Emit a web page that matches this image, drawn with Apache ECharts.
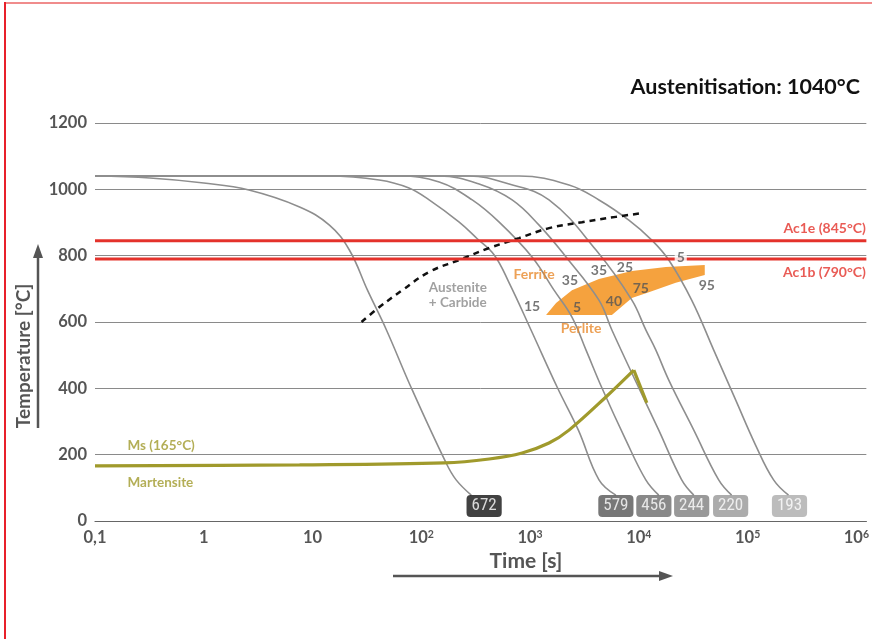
<!DOCTYPE html>
<html>
<head>
<meta charset="utf-8">
<script src="https://cdn.jsdelivr.net/npm/echarts@6/dist/echarts.min.js"></script>
<style>
html,body{margin:0;padding:0;background:#fff;}
#wrap{position:relative;width:872px;height:639px;overflow:hidden;background:#fff;}
#chart{position:absolute;left:0;top:0;width:872px;height:639px;}
#bt{position:absolute;left:4px;top:2px;width:868px;height:2px;background:#f08c8c;}
#bl{position:absolute;left:4px;top:2px;width:1.5px;height:637px;background:#e8202a;}
</style>
</head>
<body>
<div id="wrap"><div id="chart"></div><div id="bt"></div><div id="bl"></div></div>
<script>
// ---- data ----
const xMin = 0.1;
const xMax = 1.235e6;
const yTicks = [0, 200, 400, 600, 800, 1000, 1200];

const curve672 = [[0.1,1040],[0.32,1034],[1,1019],[2.6,998],[7.6,947],[14.3,892],[21.8,817],[32,696],[47.8,576],[81,401],[169,175],[209,124],[288,78]];
const curve579 = [[0.1,1040],[14,1040],[41,1028],[77,1004],[118,968],[223,901],[327,851],[468,802],[642,718],[1020,576],[1790,401],[2780,274],[4300,124],[6150,78]];
const curve456 = [[0.1,1040],[63,1040],[146,1022],[294,968],[520,901],[1042,796],[1660,696],[2426,615],[3264,516],[4580,401],[7600,244],[11590,124],[15240,78]];
const curve244 = [[0.1,1040],[146,1040],[340,1016],[684,968],[1210,892],[2140,796],[4296,666],[5650,576],[10000,401],[15240,274],[24770,124],[32000,78]];
const curve220 = [[0.1,1040],[275,1040],[642,1016],[1493,968],[4040,817],[8630,666],[11590,576],[14310,516],[18840,425],[32000,274],[54200,124],[71300,78]];
const curve193 = [[0.1,1040],[793,1040],[2280,1013],[4300,968],[8090,907],[13150,847],[18840,787],[30600,666],[48700,516],[77600,365],[118300,229],[173300,124],[237700,78]];
const curves = [curve672, curve579, curve456, curve244, curve220, curve193];

const hardness = ['672','579','456','244','220','193'];
const hardnessPos = [[378,45],[6150,45],[13740,45],[30600,45],[69800,45],[242700,45]];
const hardnessColors = ['#111111','#555555','#6b6b6b','#808080','#979797','#ababab'];

const msLine = [[0.1,166],[7.6,169],[163,175],[421,187],[845,205],[1493,235],[2280,274],[4980,374],[8990,455]];
const msTail = [[8990,455],[11830,356]];

const carbideLine = [[28.2,600],[41.2,645],[66.9,696],[118,751],[223,787],[421,823],[793,853],[1493,883],[3000,901],[6150,917],[11120,929]];

const ferritePerlite = [[1403,621],[1733,657],[2427,696],[4296,730],[8630,754],[17700,766],[40360,772],[40360,742],[21830,718],[12360,690],[8630,672],[5650,621]];

const ac1e = 845, ac1b = 790;

const phaseNames = ['Ferrite','Perlite'];
const phasePos = [[1089,742],[2939,579]];

const pctNames = ['35','35','25','15','5','40','75','95'];
const pctPos = [[2328,724],[4296,754],[7450,763],[1042,648],[2698,645],[5900,663],[10420,702],[42100,709]];
const pctWhite = ['5'];
const pctWhitePos = [[24270,796]];

const leftLabels = ['Austenite\n+ Carbide'];
const leftLabelPos = [[116,680]];
const msLabels = ['Ms (165°C)','Martensite'];
const msLabelPos = [[0.197,226],[0.197,115]];
const acLabels = ['Ac1e (845°C)','Ac1b (790°C)'];
const acLabelPos = [[xMax,883],[xMax,748]];

// ---- chart ----
const FONT = 'Lato, "Open Sans", sans-serif';
const GRAY = '#8e8e8e', RED = '#e4322b', OLIVE = '#a09a2c', ORANGE = '#f5a23e', ORANGE_T = '#e98a2c', TXT = '#555';

const chart = echarts.init(document.getElementById('chart'), null, {renderer:'canvas'});

function supLabel(v){
  const l = Math.log10(v);
  const e = Math.round(l);
  if (Math.abs(l - e) > 1e-6) return '';
  if (e === -1) return '0,1';
  if (e === 0) return '1';
  if (e === 1) return '10';
  return '{b|10}{s|' + e + '}';
}

function textScatter(names, pos, label, z){
  return {
    type:'scatter', symbol:'circle', symbolSize:1, z: z || 10, silent:true,
    itemStyle:{color:'rgba(0,0,0,0)'},
    data: names.map((n,i)=>({name:n, value:pos[i]})),
    label: Object.assign({show:true, formatter:'{b}', fontFamily:FONT}, label)
  };
}

const series = [];
series.push({
  type:'custom', z:1, silent:true,
  data:[[1000,700]],
  renderItem:function(params, api){
    const pts = ferritePerlite.map(p=>api.coord(p));
    return {type:'polygon', shape:{points:pts}, style:{fill:ORANGE}};
  }
});
curves.forEach(c=>{
  series.push({type:'line', data:c, smooth:0.4, symbol:'none', z:3, lineStyle:{color:GRAY, width:1.6}});
});
series.push({type:'line', data:carbideLine, smooth:0.4, symbol:'none', z:4, lineStyle:{color:'#111', width:2.5, type:[6,5]}});
series.push({type:'line', data:[[xMin,ac1e],[xMax,ac1e]], symbol:'none', z:5, lineStyle:{color:RED, width:3}});
series.push({type:'line', data:[[xMin,ac1b],[xMax,ac1b]], symbol:'none', z:5, lineStyle:{color:RED, width:3}});
series.push({type:'line', data:msLine, smooth:0.35, symbol:'none', z:6, lineStyle:{color:OLIVE, width:3.2}});
series.push({type:'line', data:msTail, symbol:'none', z:6, lineStyle:{color:OLIVE, width:3.2}});

series.push({
  type:'scatter', symbol:'circle', symbolSize:1, z:12, silent:true,
  itemStyle:{color:'rgba(0,0,0,0)'},
  data: hardness.map((h,i)=>({name:h, value:hardnessPos[i], label:{backgroundColor:hardnessColors[i]}})),
  label:{show:true, position:'inside', formatter:'{b}', color:'#fff', fontSize:17,
    fontFamily:'"Liberation Sans Narrow", "Roboto Condensed", "DejaVu Sans Condensed", sans-serif',
    padding:[3,5,2,5], borderRadius:4, lineHeight:17}
});
series.push(textScatter(phaseNames, phasePos, {position:'inside', color:ORANGE_T, fontSize:14, fontWeight:'bold'}, 11));
series.push(textScatter(pctNames, pctPos, {position:'inside', color:TXT, fontSize:14, fontWeight:'bold'}, 11));
series.push(textScatter(pctWhite, pctWhitePos, {position:'inside', color:TXT, fontSize:14, fontWeight:'bold', backgroundColor:'#fff', padding:[0,2]}, 11));
series.push(textScatter(leftLabels, leftLabelPos, {position:'right', distance:0, align:'left', color:'#8a8a8a', fontSize:13.5, fontWeight:'bold', lineHeight:15}, 11));
series.push(textScatter(msLabels, msLabelPos, {position:'right', distance:0, color:OLIVE, fontSize:13.5, fontWeight:'bold'}, 11));
series.push(textScatter(acLabels, acLabelPos, {position:'left', distance:0, color:RED, fontSize:14, fontWeight:'bold'}, 11));

const option = {
  animation:false,
  backgroundColor:'#fff',
  grid:{left:95, right:4, top:123, bottom:118, containLabel:false},
  xAxis:{
    type:'log', logBase:10, min:xMin, max:xMax,
    axisLine:{show:true, lineStyle:{color:'#666', width:1.2}},
    axisTick:{show:false}, splitLine:{show:false}, minorTick:{show:false},
    axisLabel:{
      showMinLabel:true, showMaxLabel:true, margin:8,
      color:TXT, fontSize:16.5, fontWeight:'bold', fontFamily:FONT,
      formatter:supLabel,
      rich:{
        b:{color:TXT, fontSize:16.5, fontWeight:'bold', fontFamily:FONT},
        s:{color:TXT, fontSize:10.5, fontWeight:'bold', fontFamily:FONT, verticalAlign:'top'}
      }
    }
  },
  yAxis:{
    type:'value', min:0, max:1200, interval:200,
    axisLine:{show:false}, axisTick:{show:false},
    splitLine:{lineStyle:{color:'#8a8a8a', width:1}},
    axisLabel:{color:TXT, fontSize:16.5, fontWeight:'bold', fontFamily:FONT, margin:8,
      formatter:function(v){ return yTicks.indexOf(v) >= 0 ? String(v) : ''; }}
  },
  graphic:[
    {type:'text', right:12, top:76, style:{text:'Austenitisation: 1040°C', fill:'#111', font:'bold 21.5px ' + FONT}},
    {type:'text', x:24, y:356, rotation:Math.PI/2, style:{text:'Temperature [°C]', fill:TXT, font:'bold 19px ' + FONT, align:'center', verticalAlign:'middle'}},
    {type:'line', shape:{x1:38, y1:428, x2:38, y2:255}, style:{stroke:TXT, lineWidth:2.5}},
    {type:'polygon', shape:{points:[[38,244],[33,258],[43,258]]}, style:{fill:TXT}},
    {type:'text', x:526, y:561, style:{text:'Time [s]', fill:TXT, font:'bold 21px ' + FONT, align:'center', verticalAlign:'middle'}},
    {type:'line', shape:{x1:393, y1:576, x2:662, y2:576}, style:{stroke:TXT, lineWidth:2.5}},
    {type:'polygon', shape:{points:[[673,576],[659,571],[659,581]]}, style:{fill:TXT}}
  ],
  series:series
};
chart.setOption(option);
</script>
</body>
</html>
